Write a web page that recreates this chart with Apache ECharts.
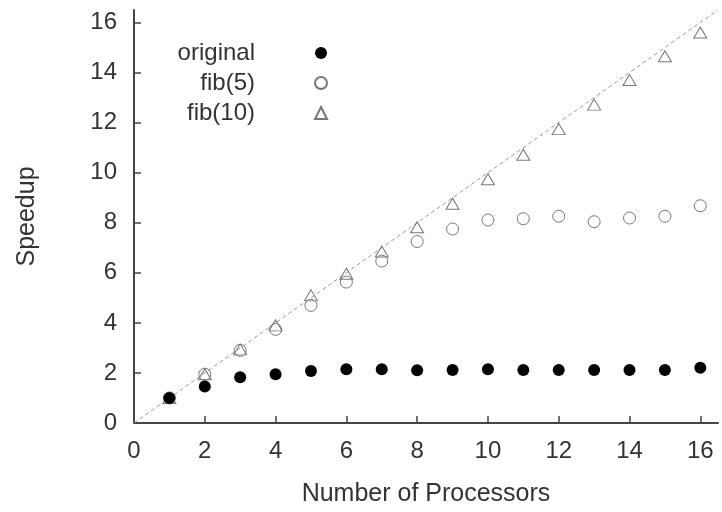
<!DOCTYPE html>
<html>
<head>
<meta charset="utf-8">
<script src="https://cdn.jsdelivr.net/npm/echarts@6/dist/echarts.min.js"></script>
<style>html,body{margin:0;padding:0;background:#fff;}#c{width:722px;height:512px;}</style>
</head>
<body>
<div id="c"></div>
<script>
var processors = [1,2,3,4,5,6,7,8,9,10,11,12,13,14,15,16];
var original = [1.0,1.46,1.83,1.95,2.08,2.15,2.15,2.11,2.12,2.15,2.12,2.12,2.12,2.12,2.12,2.21];
var fib5 = [1.0,1.95,2.9,3.74,4.7,5.63,6.47,7.25,7.75,8.11,8.16,8.26,8.04,8.19,8.26,8.68];
var fib10 = [1.0,1.95,2.94,3.9,5.1,5.96,6.85,7.82,8.76,9.74,10.72,11.74,12.72,13.7,14.65,15.6];
var xTicks = [0,2,4,6,8,10,12,14,16];
var yTicks = [0,2,4,6,8,10,12,14,16];
var idealLine = [0,16.5];
var seriesNames = ['original','fib(5)','fib(10)'];

function pairs(xs, ys){ return xs.map(function(x,i){ return [x, ys[i]]; }); }

var font = 'Liberation Sans';
var axisColor = '#444';
var textColor = '#333';

var chart = echarts.init(document.getElementById('c'), null, {renderer:'canvas'});
chart.setOption({
  animation: false,
  backgroundColor: '#fff',
  grid: {left: 134, right: 4, top: 10, bottom: 87, containLabel: false},
  legend: {
    data: seriesNames,
    orient: 'vertical',
    align: 'right',
    right: 389,
    top: 36,
    itemWidth: 12,
    itemHeight: 12,
    itemGap: 6,
    textStyle: {fontFamily: font, fontSize: 24, color: textColor, width: 100, lineHeight: 24, padding: [0, 55, 0, 0]}
  },
  xAxis: {
    type: 'value', min: 0, max: 16.5, interval: 2,
    name: 'Number of Processors', nameLocation: 'middle', nameGap: 59,
    nameTextStyle: {fontFamily: font, fontSize: 25, color: textColor},
    axisLine: {show: true, onZero: false, lineStyle: {color: axisColor, width: 2}},
    axisTick: {show: true, inside: true, length: 7, lineStyle: {color: axisColor, width: 1.5}, customValues: xTicks},
    axisLabel: {fontFamily: font, fontSize: 24, color: textColor, margin: 16, customValues: xTicks},
    splitLine: {show: false}
  },
  yAxis: {
    type: 'value', min: 0, max: 16.5, interval: 2,
    name: 'Speedup', nameLocation: 'middle', nameGap: 94, nameRotate: 90,
    nameTextStyle: {fontFamily: font, fontSize: 25, color: textColor},
    axisLine: {show: true, onZero: false, lineStyle: {color: axisColor, width: 2}},
    axisTick: {show: true, inside: true, length: 7, lineStyle: {color: axisColor, width: 1.5}, customValues: yTicks},
    axisLabel: {fontFamily: font, fontSize: 24, color: textColor, margin: 17, customValues: yTicks},
    splitLine: {show: false}
  },
  series: [
    {
      name: 'ideal', type: 'line', data: pairs(idealLine, idealLine), showSymbol: false, symbol: 'none',
      lineStyle: {color: '#999', width: 1, type: [4, 3]}, silent: true, z: 1
    },
    {
      name: 'original', type: 'scatter', data: pairs(processors, original), symbol: 'circle', symbolSize: 12,
      itemStyle: {color: '#000', borderColor: '#000', borderWidth: 0, opacity: 1}, z: 3
    },
    {
      name: 'fib(5)', type: 'scatter', data: pairs(processors, fib5), symbol: 'circle', symbolSize: 12,
      itemStyle: {color: 'rgba(255,255,255,0)', borderColor: '#777', borderWidth: 1, opacity: 1}, z: 2
    },
    {
      name: 'fib(10)', type: 'scatter', data: pairs(processors, fib10), symbol: 'triangle', symbolSize: [13, 11],
      itemStyle: {color: 'rgba(255,255,255,0)', borderColor: '#777', borderWidth: 1, opacity: 1}, z: 2
    }
  ]
});
</script>
</body>
</html>
